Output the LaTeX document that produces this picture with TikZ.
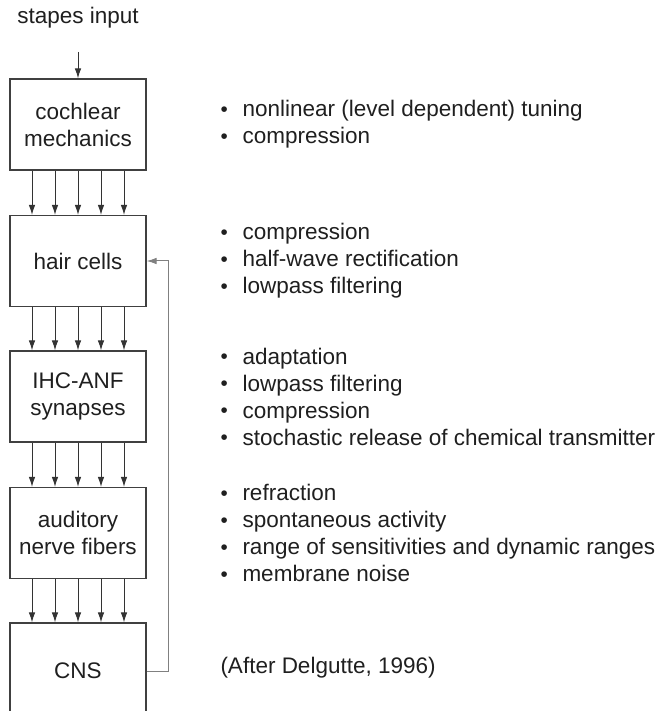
\documentclass[tikz,border=0pt]{standalone}
\usepackage{fontspec}
\setmainfont{Liberation Sans}
\usetikzlibrary{arrows.meta, positioning}
\tikzset{
    stage/.style={draw=black!75, line width=0.45pt, minimum width=54.4pt, minimum height=36.4pt, align=center, inner sep=0pt},
    notes/.style={anchor=west, align=left, inner sep=0pt},
    flow/.style={->, draw=black!80, line width=0.4pt},
}
\newcommand{\blt}{\makebox[8.8pt][l]{\raisebox{0.1pt}{\scalebox{0.92}{\textbullet}}}}

\begin{document}
\begin{tikzpicture}[x=0.4pt, y=-0.4pt, >={Latex[length=4pt,width=2.6pt]},
    font=\fontsize{9}{10.8}\selectfont, text=black!88]
    \useasboundingbox (0,0) rectangle (657,711);
    \clip (0,0) rectangle (657,711);

    % Nodes
    \node (stapes) at (78,18) {stapes input};
    \coordinate (in) at (78,52);

    \node (cochlea) at (78,124.5) [stage] {cochlear\\mechanics};
    \node (hair) at (78,261) [stage] {hair cells};
    \node (synapse) at (78,396.5) [stage] {IHC-ANF\\synapses};
    \node (fibers) at (78,533) [stage] {auditory\\nerve fibers};
    \node (cns) at (78,671) [stage, minimum height=38.4pt] {CNS};

    \node (n1) at (220,124.5) [notes] {\blt nonlinear (level dependent) tuning\\\blt compression};
    \node (n2) at (220,261) [notes] {\blt compression\\\blt half-wave rectification\\\blt lowpass filtering};
    \node (n3) at (220,396.5) [notes] {\blt adaptation\\\blt lowpass filtering\\\blt compression\\\blt stochastic release of chemical transmitter};
    \node (n4) at (220,533) [notes] {\blt refraction\\\blt spontaneous activity\\\blt range of sensitivities and dynamic ranges\\\blt membrane noise};
    \node (n5) at (220,668) [notes] {(After Delgutte, 1996)};

    % Edges
    \draw[flow] (in) -- (cochlea);
    \foreach \dx in {-18.4pt, -9.2pt, 0pt, 9.2pt, 18.4pt} {
        \draw[flow] ([xshift=\dx]cochlea.south) -- ([xshift=\dx]hair.north);
        \draw[flow] ([xshift=\dx]hair.south) -- ([xshift=\dx]synapse.north);
        \draw[flow] ([xshift=\dx]synapse.south) -- ([xshift=\dx]fibers.north);
        \draw[flow] ([xshift=\dx]fibers.south) -- ([xshift=\dx]cns.north);
    }

    \draw[flow, draw=black!50] (cns.east) -- ++(22,0) |- (hair.east);

\end{tikzpicture}
\end{document}
